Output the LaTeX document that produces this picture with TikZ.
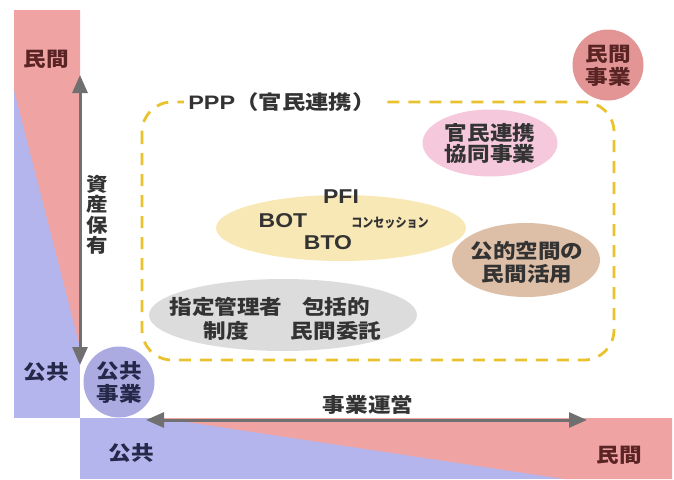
\documentclass[tikz,border=0pt]{standalone}
\usepackage{fontspec}
\setmainfont{Liberation Sans}[FakeStretch=1.15]
\newfontfamily\jp{Noto Sans CJK JP}[FakeStretch=1.13]
\newfontfamily\jpwide{Noto Sans CJK JP}[FakeStretch=1.2]
\newfontfamily\jpnarrow{Noto Sans CJK JP}[FakeStretch=0.85]
\newfontfamily\latwide{Liberation Sans}[FakeStretch=1.2]
\usetikzlibrary{arrows.meta,shapes.geometric}
\definecolor{barpink}{HTML}{EFA3A2}
\definecolor{barblue}{HTML}{B3B5EC}
\definecolor{circblue}{HTML}{ABABE2}
\definecolor{circred}{HTML}{E39595}
\definecolor{ppppink}{HTML}{F5C8DC}
\definecolor{pfiyellow}{HTML}{F8E8B5}
\definecolor{tan}{HTML}{DDBFA8}
\definecolor{lgray}{HTML}{DCDCDC}
\definecolor{dashy}{HTML}{E9C22E}
\definecolor{arrowgray}{HTML}{707070}
\definecolor{navy}{HTML}{26284A}
\definecolor{brownt}{HTML}{5A2424}
\definecolor{txt}{HTML}{333333}
\tikzset{
  lbl/.style={font=\jp\bfseries\fontsize{20}{23}\selectfont, inner sep=0pt, align=center},
  pub/.style={lbl, text=navy},
  priv/.style={lbl, text=brownt},
  blob/.style={ellipse, inner sep=0pt, draw=none},
  blobtext/.style={inner sep=0pt, text=txt, align=center, font=\jp\bfseries\fontsize{20}{22}\selectfont},
  bigarrow/.style={draw=arrowgray, line width=3pt, {Triangle[length=18pt,width=15pt]}-{Triangle[length=18pt,width=15pt]}},
  latin/.style={font=\bfseries\fontsize{20}{22}\selectfont, text=txt, inner sep=0pt}
}
\begin{document}
\begin{tikzpicture}[x=1pt,y=-1pt]
\useasboundingbox (0,0) rectangle (674,479);
% left vertical bar
\fill[barblue] (14,10) rectangle (80,418);
\fill[barpink] (14,10) -- (80,10) -- (80,347) -- (14,90) -- cycle;
% bottom bar
\fill[barblue] (80,418) rectangle (672,479);
\fill[barpink] (160,418) -- (672,418) -- (672,479) -- (564,479) -- cycle;
% labels on bars
\node[priv] (vpriv) at (46,59) {民間};
\node[pub] (vpub) at (46,372) {公共};
\node[pub] (hpub) at (131,453) {公共};
\node[priv] (hpriv) at (619,455) {民間};
% axis arrows
\coordinate (vtop) at (80,75);
\coordinate (vbot) at (80,365);
\draw[bigarrow] (vtop) -- (vbot);
\coordinate (hl) at (146,420);
\coordinate (hr) at (587,420);
\draw[bigarrow] (hl) -- (hr);
\node[lbl, text=txt, font=\jp\bfseries\fontsize{19}{20.5}\selectfont] (asset) at (97,215) {資\\産\\保\\有};
\node[lbl, text=txt] (ops) at (368,405) {事業運営};
% PPP dashed region
\draw[dashy, line width=2.8pt, dash pattern=on 12pt off 9pt, rounded corners=30pt] (142,102) rectangle (614,360);
\node[fill=white, inner xsep=4pt, inner ysep=2pt, font=\jpwide\bfseries\fontsize{19.5}{21}\selectfont, text=txt] (ppp) at (282,102) {{\latwide\bfseries PPP}（官民連携）};
% circles
\node[circle, fill=circblue, minimum size=71pt, inner sep=0pt] (pubbiz) at (119,382) {};
\node[pub] (pubbizt) at (119,382) {公共\\事業};
\node[circle, fill=circred, minimum size=71pt, inner sep=0pt] (privbiz) at (608,65) {};
\node[priv] (privbizt) at (608,66) {民間\\事業};
% ellipses
\node[blob, fill=ppppink, minimum width=135pt, minimum height=67pt] (kyodo) at (490,143) {};
\node[blobtext, font=\jp\bfseries\fontsize{20}{21}\selectfont] (kyodot) at (490,143) {官民連携\\協同事業};
\node[blob, fill=pfiyellow, minimum width=250pt, minimum height=66pt] (pfi) at (341,228) {};
\node[latin] (pfit) at (341,197) {PFI};
\node[latin] (bot) at (283,221) {BOT};
\node[latin] (bto) at (328,243) {BTO};
\node[inner sep=0pt, text=txt, font=\jpnarrow\bfseries\fontsize{13}{14}\selectfont] (conc) at (390,223) {コンセッション};
\node[blob, fill=tan, minimum width=148pt, minimum height=74pt] (koteki) at (526,260) {};
\node[blobtext, font=\jp\bfseries\fontsize{20}{23}\selectfont] (kotekit) at (527,262) {公的空間の\\民間活用};
\node[blob, fill=lgray, minimum width=268pt, minimum height=72pt] (shitei) at (283,315) {};
\node[blobtext, font=\jp\bfseries\fontsize{20}{24}\selectfont] (shiteit) at (226,319) {指定管理者\\制度};
\node[blobtext, font=\jp\bfseries\fontsize{20}{24}\selectfont] (hokatsu) at (336,319) {包括的\\民間委託};
\end{tikzpicture}
\end{document}
